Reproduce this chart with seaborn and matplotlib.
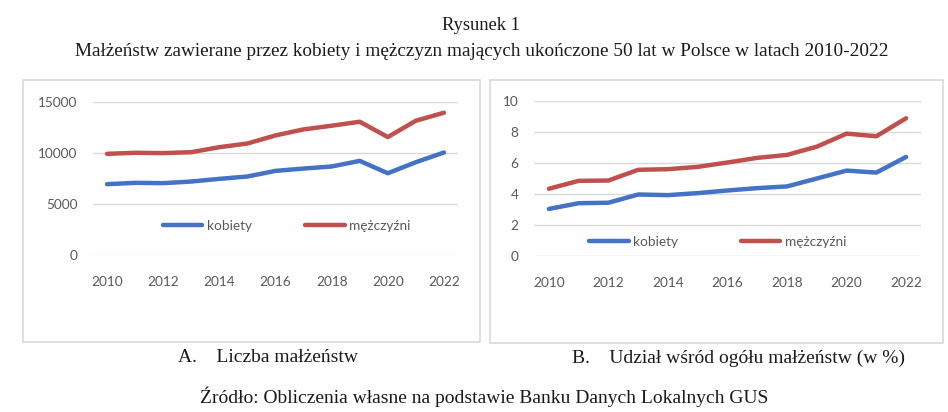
import numpy as np
import pandas as pd
import matplotlib
matplotlib.use('Agg')
import matplotlib.pyplot as plt
from matplotlib.patches import Rectangle
import seaborn as sns

# ------------------------------------------------------------
# Data
# ------------------------------------------------------------
years = list(range(2010, 2023))
series_names = ['kobiety', 'mężczyźni']

# A. number of marriages
count_women = [6930, 7060, 7030, 7190, 7450, 7680, 8230, 8460, 8660, 9210, 8000, 9080, 10030]
count_men = [9900, 10000, 9970, 10060, 10550, 10910, 11700, 12290, 12650, 13040, 11540, 13140, 13920]

# B. share among all marriages (%)
share_women = [3.03, 3.40, 3.43, 3.96, 3.92, 4.05, 4.22, 4.37, 4.48, 4.99, 5.50, 5.37, 6.38]
share_men = [4.33, 4.84, 4.86, 5.55, 5.59, 5.74, 6.02, 6.32, 6.51, 7.04, 7.88, 7.71, 8.87]

left_yticks = [0, 5000, 10000, 15000]
right_yticks = [0, 2, 4, 6, 8, 10]
xticks = [2010, 2012, 2014, 2016, 2018, 2020, 2022]

title = 'Rysunek 1'
subtitle = ('Małżeństw zawierane przez kobiety i mężczyzn mających ukończone '
            '50 lat w Polsce w latach 2010-2022')
caption_a = 'A.    Liczba małżeństw'
caption_b = 'B.    Udział wśród ogółu małżeństw (w %)'
source = 'Źródło: Obliczenia własne na podstawie Banku Danych Lokalnych GUS'


def long_frame(women, men):
    return pd.DataFrame({
        'rok': years * 2,
        'wartosc': women + men,
        'plec': [series_names[0]] * len(years) + [series_names[1]] * len(years),
    })


df_count = long_frame(count_women, count_men)
df_share = long_frame(share_women, share_men)

# ------------------------------------------------------------
# Style
# ------------------------------------------------------------
sns.set_style('white')
plt.rcParams['font.family'] = ['Lato', 'DejaVu Sans']

palette = {'kobiety': '#4472C4', 'mężczyźni': '#C0504D'}
grid_col = '#D9D9D9'
tick_col = '#595959'
text_col = '#1a1a1a'
serif = ['Liberation Serif', 'DejaVu Serif']

W, H = 948, 412
fig = plt.figure(figsize=(W / 100, H / 100), dpi=100)


def px_box(x0, y0, x1, y1):
    # pixel box (top-left origin) -> figure fraction [l, b, w, h]
    return [x0 / W, 1 - y1 / H, (x1 - x0) / W, (y1 - y0) / H]


# chart frames
for (x0, y0, x1, y1) in [(23, 80, 480, 342), (490, 80, 943, 343)]:
    l, b, w, h = px_box(x0, y0, x1, y1)
    fig.patches.append(Rectangle((l, b), w, h, transform=fig.transFigure,
                                 fill=False, edgecolor='#D9D9D9', lw=1.2))

ax1 = fig.add_axes(px_box(93, 101.7, 458, 255))
ax2 = fig.add_axes(px_box(534, 100.7, 921, 256))


def draw_panel(ax, data, yticks, legend_xy, colspace):
    sns.lineplot(data=data, x='rok', y='wartosc', hue='plec', palette=palette,
                 linewidth=3.2, ax=ax, solid_capstyle='round')
    ax.set_xlim(2009.5, 2022.5)
    ax.set_ylim(yticks[0], yticks[-1])
    ax.set_yticks(yticks)
    ax.set_xticks(xticks)
    ax.set_xticklabels([str(t) for t in xticks])
    ax.set_yticklabels([str(t) for t in yticks])
    ax.yaxis.grid(True, color=grid_col, lw=1.0)
    ax.set_axisbelow(True)
    for s in ax.spines.values():
        s.set_visible(False)
    ax.tick_params(axis='x', length=0, pad=15, labelsize=9.8, colors=tick_col)
    ax.tick_params(axis='y', length=0, pad=11, labelsize=9.8, colors=tick_col)
    ax.set_xlabel('')
    ax.set_ylabel('')
    ax.set_facecolor('none')
    sns.move_legend(ax, 'center', bbox_to_anchor=legend_xy, ncol=2,
                    frameon=False, title=None, fontsize=9.8,
                    handlelength=2.9, handletextpad=0.35,
                    columnspacing=colspace)
    for t in ax.get_legend().get_texts():
        t.set_color(tick_col)
    for ln in ax.get_legend().get_lines():
        ln.set_linewidth(3.2)
        ln.set_solid_capstyle('round')


draw_panel(ax1, df_count, left_yticks, (0.531, 0.19), 3.9)
draw_panel(ax2, df_share, right_yticks, (0.475, 0.09), 4.6)

# titles and captions
fig.text(481 / W, 1 - 25 / H, title, ha='center', va='center',
         family=serif, fontsize=13.3, color=text_col)
fig.text(482 / W, 1 - 52 / H, subtitle, ha='center', va='center',
         family=serif, fontsize=13.9, color=text_col)
fig.text(268 / W, 1 - 358 / H, caption_a, ha='center', va='center',
         family=serif, fontsize=14, color=text_col)
fig.text(738 / W, 1 - 358 / H, caption_b, ha='center', va='center',
         family=serif, fontsize=14, color=text_col)
fig.text(484 / W, 1 - 397 / H, source, ha='center', va='center',
         family=serif, fontsize=14, color=text_col)

fig.savefig('out.png', dpi=100, facecolor='white')
plt.close(fig)
